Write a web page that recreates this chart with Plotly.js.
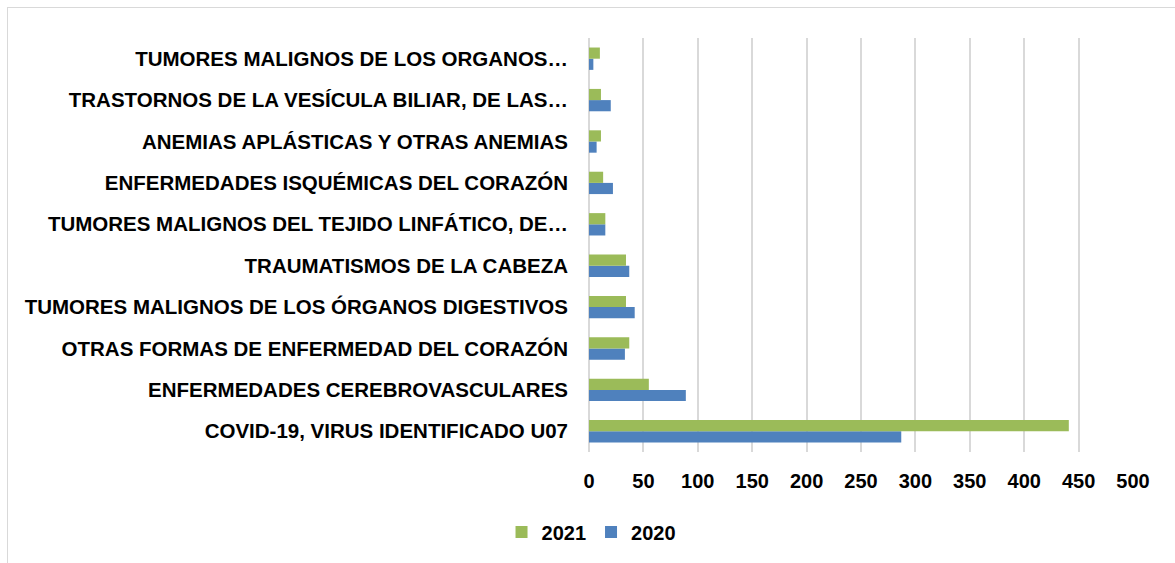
<!DOCTYPE html>
<html>
<head>
<meta charset="utf-8">
<script src="https://cdn.plot.ly/plotly-3.0.1.min.js"></script>
<style>
html,body{margin:0;padding:0;background:#fff;overflow:hidden;}
#frame{position:absolute;left:7px;top:7px;width:1200px;height:600px;border:1px solid #d9d9d9;}
#chart{position:absolute;left:0;top:0;width:1175px;height:563px;}
</style>
</head>
<body>
<div id="frame"></div>
<div id="chart"></div>
<script>
const categories = [
  "COVID-19, VIRUS IDENTIFICADO U07",
  "ENFERMEDADES CEREBROVASCULARES",
  "OTRAS FORMAS DE ENFERMEDAD DEL CORAZÓN",
  "TUMORES MALIGNOS DE LOS ÓRGANOS DIGESTIVOS",
  "TRAUMATISMOS DE LA CABEZA",
  "TUMORES MALIGNOS DEL TEJIDO LINFÁTICO, DE…",
  "ENFERMEDADES ISQUÉMICAS DEL CORAZÓN",
  "ANEMIAS APLÁSTICAS Y OTRAS ANEMIAS",
  "TRASTORNOS DE LA VESÍCULA BILIAR, DE LAS…",
  "TUMORES MALIGNOS DE LOS ORGANOS…"
];
const values2020 = [287, 89, 33, 42, 37, 15, 22, 7, 20, 4];
const values2021 = [441, 55, 37, 34, 34, 15, 13, 11, 11, 10];
const tickVals = [0, 50, 100, 150, 200, 250, 300, 350, 400, 450, 500];

const fontFam = '"Liberation Sans", Arial, sans-serif';

const data = [
  {type:'bar', orientation:'h', name:'2020', y:categories, x:values2020,
   marker:{color:'#4F81BD'}},
  {type:'bar', orientation:'h', name:'2021', y:categories, x:values2021,
   marker:{color:'#9BBB59'}}
];

const layout = {
  width:1175, height:563,
  paper_bgcolor:'rgba(0,0,0,0)', plot_bgcolor:'rgba(0,0,0,0)',
  margin:{l:589, r:42, t:38, b:111},
  barmode:'group', bargap:0.46, bargroupgap:0,
  font:{family:fontFam, color:'#000'},
  xaxis:{range:[0,500], tickvals:tickVals, ticktext:tickVals.map(String),
    showgrid:true, gridcolor:'#d9d9d9', gridwidth:2, zeroline:true, zerolinecolor:'#d9d9d9', zerolinewidth:2,
    showline:false, ticks:'', ticklabelstandoff:15,
    tickfont:{size:20, family:fontFam, weight:'bold'}},
  yaxis:{type:'category', categoryorder:'array', categoryarray:categories,
    showgrid:false, zeroline:false, showline:false, ticks:'', ticklabelstandoff:20,
    tickfont:{size:20.5, family:fontFam, weight:'bold'}},
  legend:{orientation:'h', xref:'container', yref:'container', x:0.503, xanchor:'center', y:0.055, yanchor:'middle',
    traceorder:'reversed', font:{size:20, family:fontFam, weight:'bold'},
    itemwidth:30},
  showlegend:true
};

Plotly.newPlot('chart', data, layout, {displayModeBar:false, staticPlot:true});
</script>
</body>
</html>
